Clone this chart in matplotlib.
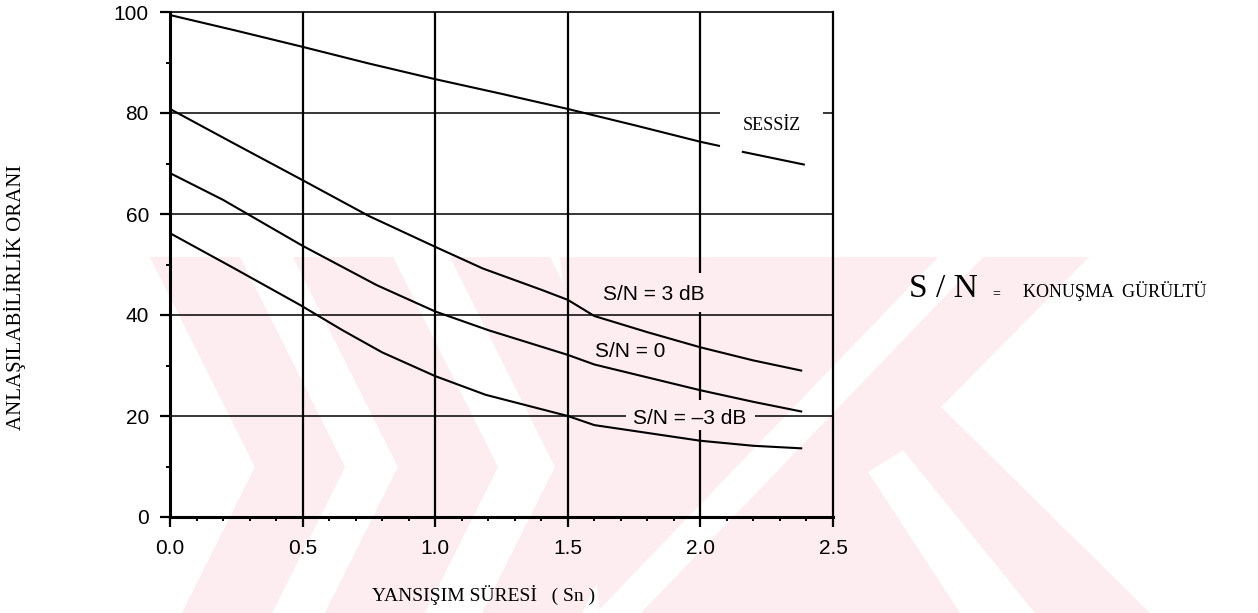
import numpy as np
import matplotlib.pyplot as plt
from matplotlib.patches import Polygon
from matplotlib.ticker import MultipleLocator

# reverberation time (s) vs. intelligibility (%)
sessiz_x = [0.0, 0.25, 0.5, 0.75, 1.0, 1.25, 1.5, 1.75, 2.0, 2.07]
sessiz_y = [99.4, 96.3, 93.1, 89.8, 86.7, 83.8, 80.8, 77.6, 74.3, 73.5]
sessiz_tail_x = [2.16, 2.39]
sessiz_tail_y = [72.3, 69.8]

sn3_x = [0.0, 0.24, 0.5, 0.75, 1.0, 1.18, 1.4, 1.5, 1.6, 1.8, 2.0, 2.2, 2.38]
sn3_y = [80.8, 74.0, 66.7, 59.6, 53.5, 49.2, 45.0, 43.0, 39.8, 36.6, 33.6, 31.0, 29.0]

sn0_x = [0.0, 0.2, 0.5, 0.78, 1.0, 1.2, 1.5, 1.6, 2.0, 2.2, 2.38]
sn0_y = [68.1, 62.8, 53.7, 45.9, 40.7, 37.0, 32.1, 30.2, 25.1, 22.8, 20.9]

snm3_x = [0.0, 0.24, 0.49, 0.65, 0.8, 1.0, 1.19, 1.5, 1.6, 2.0, 2.2, 2.38]
snm3_y = [56.2, 49.3, 42.0, 37.0, 32.6, 27.9, 24.2, 20.0, 18.2, 15.1, 14.1, 13.6]

x_ticks = [0.0, 0.5, 1.0, 1.5, 2.0, 2.5]
y_ticks = [0, 20, 40, 60, 80, 100]

# breaks in the grid where labels sit
h_gaps = {80: [(2.074, 2.462)], 20: [(1.72, 2.205)]}
v_gaps = {2.0: [(17.2, 23.2), (40.6, 48.3)]}

W, H = 1258, 613
SERIF = 'Liberation Serif'
SANS = 'Liberation Sans'
PINK = '#fdecf0'


def px(pts):
    return [(x / W, 1 - y / H) for x, y in pts]


def chevron(x0, w, s=0.5, top=257, yv=467, bottom=613):
    up = s * (yv - top)
    dn = s * (bottom - yv)
    return [(x0, top), (x0 + w, top), (x0 + w + up, yv), (x0 + w + up - dn, bottom),
            (x0 + up - dn, bottom), (x0 + up, yv)]


def segments(lo, hi, gaps):
    out = []
    a = lo
    for g0, g1 in gaps:
        out.append((a, g0))
        a = g1
    out.append((a, hi))
    return out


fig = plt.figure(figsize=(W / 100, H / 100), dpi=100)

# faint background stamp
shapes = [chevron(150, 90), chevron(293, 100), chevron(450, 100),
          [(560, 257), (1089, 257), (941, 407), (1150, 613), (600, 613)]]
for pts in shapes:
    fig.add_artist(Polygon(px(pts), closed=True, transform=fig.transFigure,
                           facecolor=PINK, edgecolor='none', zorder=-2))
for pts in [[(938, 257), (983, 257), (641, 613), (596, 613)],
            [(868, 472), (903, 450), (1035, 613), (960, 613)]]:
    fig.add_artist(Polygon(px(pts), closed=True, transform=fig.transFigure,
                           facecolor='white', edgecolor='none', zorder=-1))

ax = fig.add_axes([170 / W, 1 - 517 / H, 663 / W, 505 / H])
ax.patch.set_alpha(0)
ax.set_xlim(0, 2.5)
ax.set_ylim(0, 100)

for yv in y_ticks[1:-1]:
    for a, b in segments(0, 2.5, h_gaps.get(yv, [])):
        ax.hlines(yv, a, b, color='k', lw=1.1, zorder=1)
for xv in x_ticks[1:-1]:
    for a, b in segments(0, 100, v_gaps.get(xv, [])):
        ax.vlines(xv, a, b, color='k', lw=1.6, zorder=1)

line_kw = dict(color='k', lw=1.5, zorder=2)
ax.plot(sessiz_x, sessiz_y, **line_kw)
ax.plot(sessiz_tail_x, sessiz_tail_y, **line_kw)
ax.plot(sn3_x, sn3_y, **line_kw)
ax.plot(sn0_x, sn0_y, **line_kw)
ax.plot(snm3_x, snm3_y, **line_kw)

ax.text(2.27, 77.6, 'SESSİZ', ha='center', va='center', fontsize=13, family=SERIF)
ax.text(1.825, 44.0, 'S/N = 3 dB', ha='center', va='center', fontsize=15, family=SANS)
ax.text(1.735, 32.7, 'S/N = 0', ha='center', va='center', fontsize=15, family=SANS)
ax.text(1.96, 19.6, 'S/N = –3 dB', ha='center', va='center', fontsize=15, family=SANS)

ax.set_xticks(x_ticks)
ax.set_xticklabels(['%.1f' % v for v in x_ticks])
ax.set_yticks(y_ticks)
ax.xaxis.set_minor_locator(MultipleLocator(0.1))
ax.yaxis.set_minor_locator(MultipleLocator(10))
ax.tick_params(which='major', length=7.2, width=1.6, direction='out', labelsize=15)
ax.tick_params(axis='x', which='major', pad=9)
ax.tick_params(axis='y', which='major', pad=8)
ax.tick_params(which='minor', length=3, width=1.4, direction='out')
for lab in ax.get_xticklabels() + ax.get_yticklabels():
    lab.set_family(SANS)

ax.spines['left'].set_linewidth(2.2)
ax.spines['bottom'].set_linewidth(2.2)
ax.spines['top'].set_linewidth(1.2)
ax.spines['right'].set_linewidth(1.6)

fig.text(15 / W, 1 - 297 / H, 'ANLAŞILABİLİRLİK ORANI', rotation=90, ha='center', va='center',
         fontsize=15, family=SERIF)
fig.text(484 / W, 1 - 595 / H, 'YANSIŞIM SÜRESİ   ( Sn )', ha='center', va='center',
         fontsize=14, family=SERIF)

fig.text(909 / W, 1 - 297 / H, 'S / N', ha='left', va='baseline', fontsize=24, family=SERIF)
fig.text(992 / W, 1 - 297 / H, '=', ha='left', va='baseline', fontsize=10, family=SERIF)
fig.text(1023 / W, 1 - 297 / H, 'KONUŞMA  GÜRÜLTÜ', ha='left', va='baseline', fontsize=13,
         family=SERIF)

fig.savefig('out.png', dpi=100)
